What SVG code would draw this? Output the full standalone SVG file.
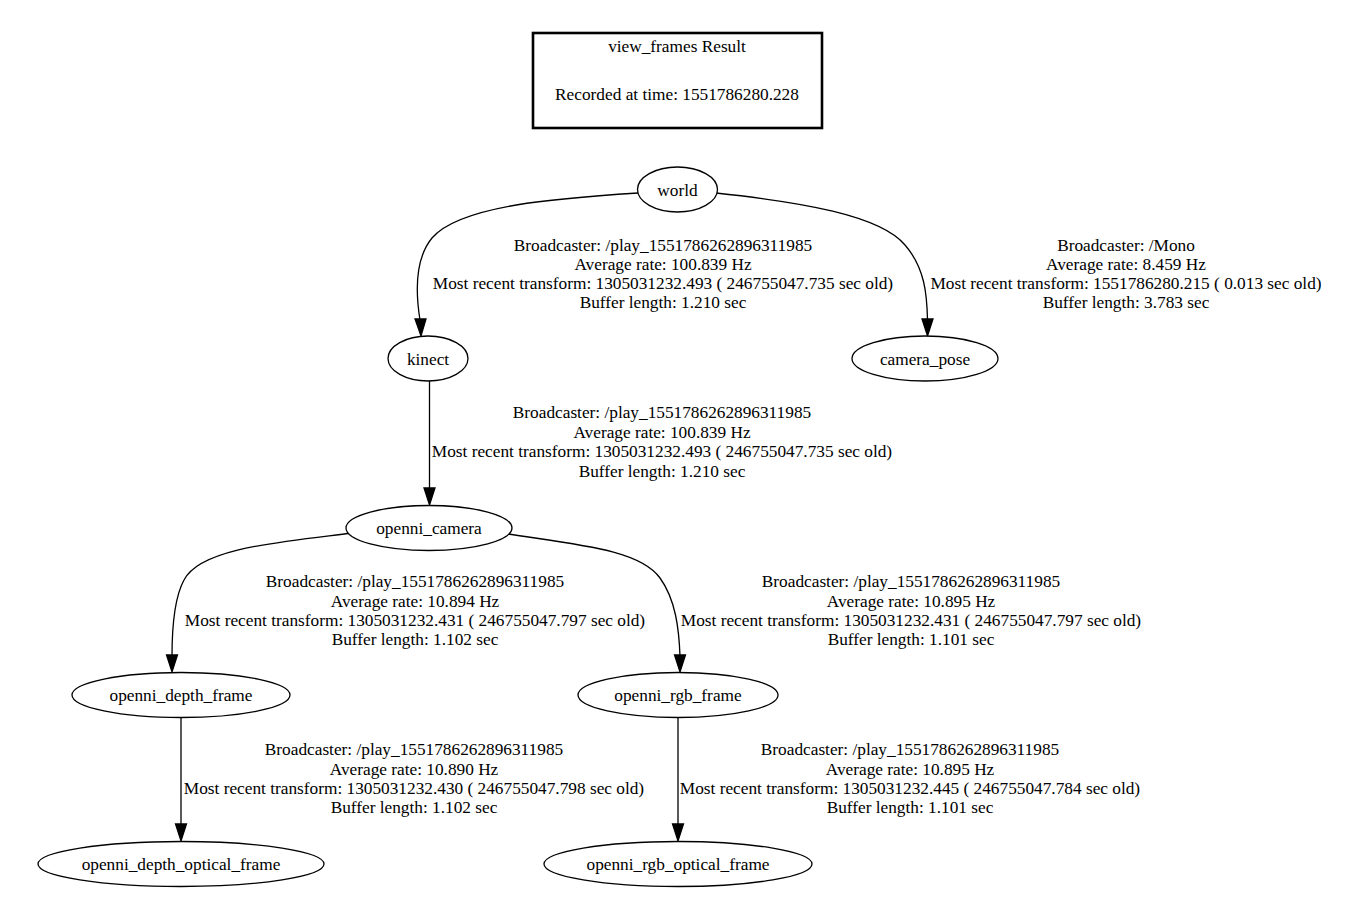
<svg xmlns="http://www.w3.org/2000/svg" width="1354" height="900" viewBox="0 0 1354 900">
<style>
text{font-family:"Liberation Serif","Times New Roman",serif;font-size:17.3px;fill:#000;text-anchor:middle}
.node ellipse{fill:#fff;stroke:#000;stroke-width:1.3}
.edges path{fill:none;stroke:#000;stroke-width:1.3}
.edges polygon{fill:#000;stroke:#000;stroke-width:1.3}
</style>
<rect width="1354" height="900" fill="#fff"/>
<g id="title">
<rect x="533" y="33" width="289" height="95" fill="#fff" stroke="#000" stroke-width="2.6"/>
<text x="677" y="52">view_frames Result</text>
<text x="677" y="100">Recorded at time: 1551786280.228</text>
</g>
<g class="edges" id="edges">
<path d="M638,193 C560,198 460,205 432,238 C414,260 416,295 420,320"/>
<polygon points="415,319 426,319 421,336"/>
<path d="M716,193 C800,202 880,215 905,245 C925,268 927,295 927.5,320"/>
<polygon points="922,319 933,319 927.5,336"/>
<path d="M429.5,381 L429.5,489"/>
<polygon points="424,488 435,488 429.5,505"/>
<path d="M352,533 C280,542 200,548 184,580 C172,602 172,640 172,656"/>
<polygon points="166.5,655 177.5,655 172,672"/>
<path d="M508,534 C580,545 640,550 660,578 C676,600 679,630 680,656"/>
<polygon points="674.5,655 685.5,655 680,672"/>
<path d="M181,718 L181,825"/>
<polygon points="175.5,824 186.5,824 181,841"/>
<path d="M678,718 L678,825"/>
<polygon points="672.5,824 683.5,824 678,841"/>
<g id="edge-labels">
<text x="663" y="251">Broadcaster: /play_1551786262896311985</text>
<text x="663" y="270">Average rate: 100.839 Hz</text>
<text x="663" y="289">Most recent transform: 1305031232.493 ( 246755047.735 sec old)</text>
<text x="663" y="308">Buffer length: 1.210 sec</text>
<text x="1126" y="251">Broadcaster: /Mono</text>
<text x="1126" y="270">Average rate: 8.459 Hz</text>
<text x="1126" y="289">Most recent transform: 1551786280.215 ( 0.013 sec old)</text>
<text x="1126" y="308">Buffer length: 3.783 sec</text>
<text x="662" y="418">Broadcaster: /play_1551786262896311985</text>
<text x="662" y="438">Average rate: 100.839 Hz</text>
<text x="662" y="457">Most recent transform: 1305031232.493 ( 246755047.735 sec old)</text>
<text x="662" y="477">Buffer length: 1.210 sec</text>
<text x="415" y="587">Broadcaster: /play_1551786262896311985</text>
<text x="415" y="607">Average rate: 10.894 Hz</text>
<text x="415" y="626">Most recent transform: 1305031232.431 ( 246755047.797 sec old)</text>
<text x="415" y="645">Buffer length: 1.102 sec</text>
<text x="911" y="587">Broadcaster: /play_1551786262896311985</text>
<text x="911" y="607">Average rate: 10.895 Hz</text>
<text x="911" y="626">Most recent transform: 1305031232.431 ( 246755047.797 sec old)</text>
<text x="911" y="645">Buffer length: 1.101 sec</text>
<text x="414" y="755">Broadcaster: /play_1551786262896311985</text>
<text x="414" y="775">Average rate: 10.890 Hz</text>
<text x="414" y="794">Most recent transform: 1305031232.430 ( 246755047.798 sec old)</text>
<text x="414" y="813">Buffer length: 1.102 sec</text>
<text x="910" y="755">Broadcaster: /play_1551786262896311985</text>
<text x="910" y="775">Average rate: 10.895 Hz</text>
<text x="910" y="794">Most recent transform: 1305031232.445 ( 246755047.784 sec old)</text>
<text x="910" y="813">Buffer length: 1.101 sec</text>
</g>
</g>
<g class="node" id="world"><ellipse cx="677.5" cy="189.5" rx="40" ry="22.5"/><text x="677.5" y="195.5">world</text></g>
<g class="node" id="kinect"><ellipse cx="428" cy="358.5" rx="40" ry="22.5"/><text x="428" y="364.5">kinect</text></g>
<g class="node" id="camera_pose"><ellipse cx="925" cy="358.5" rx="73" ry="22.5"/><text x="925" y="364.5">camera_pose</text></g>
<g class="node" id="openni_camera"><ellipse cx="429" cy="528" rx="83" ry="22.5"/><text x="429" y="534">openni_camera</text></g>
<g class="node" id="openni_depth_frame"><ellipse cx="181" cy="695" rx="109" ry="22.5"/><text x="181" y="701">openni_depth_frame</text></g>
<g class="node" id="openni_rgb_frame"><ellipse cx="678" cy="695" rx="100" ry="22.5"/><text x="678" y="701">openni_rgb_frame</text></g>
<g class="node" id="openni_depth_optical_frame"><ellipse cx="181" cy="864" rx="143" ry="22.5"/><text x="181" y="870">openni_depth_optical_frame</text></g>
<g class="node" id="openni_rgb_optical_frame"><ellipse cx="678" cy="864" rx="134" ry="22.5"/><text x="678" y="870">openni_rgb_optical_frame</text></g>
</svg>
